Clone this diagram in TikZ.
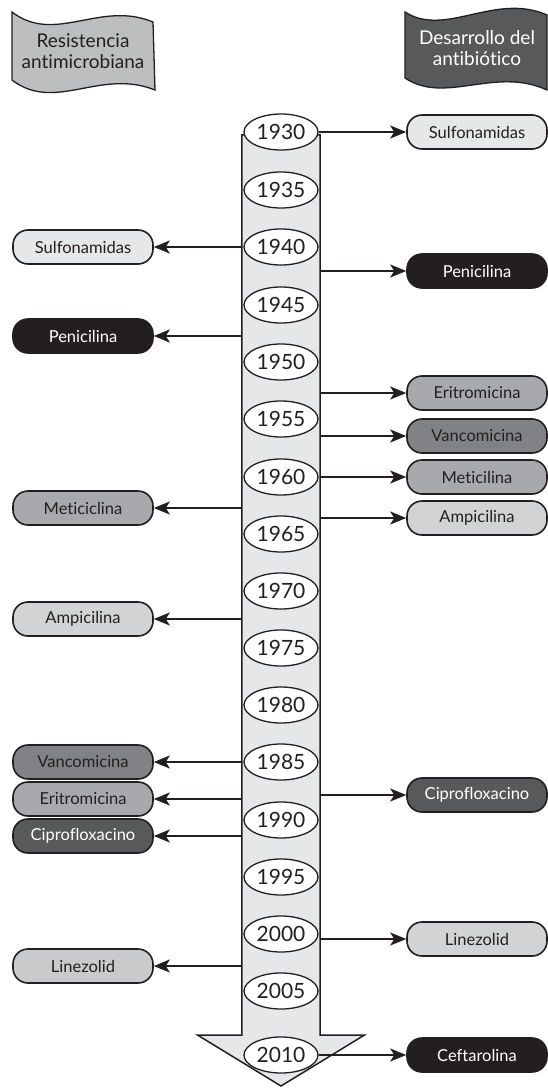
\documentclass[tikz,border=0pt]{standalone}
\usepackage{fontspec}
\setmainfont{Lato}[RawFeature={-liga}]
\usetikzlibrary{arrows.meta,calc,shapes.geometric}
\definecolor{txt}{HTML}{231F20}
\definecolor{shaftfill}{HTML}{E6E7E8}
\definecolor{fsulf}{HTML}{E6E7E8}
\definecolor{fampi}{HTML}{D1D3D4}
\definecolor{fline}{HTML}{C9CACC}
\definecolor{feri}{HTML}{A7A9AC}
\definecolor{fvan}{HTML}{808285}
\definecolor{fcip}{HTML}{58595B}
\definecolor{fpen}{HTML}{231F20}
\definecolor{bannerL}{HTML}{BCBEC0}
\definecolor{bannerR}{HTML}{58595B}
\tikzset{
  pill/.style={draw=txt, line width=1.6pt, rounded corners=15pt, minimum width=140pt,
    minimum height=34pt, inner sep=0pt, font=\fontsize{16.5}{19}\selectfont, text=txt},
  darkpill/.style={pill, text=white},
  yearnode/.style={ellipse, draw=txt, line width=1.3pt, fill=white, minimum width=74pt,
    minimum height=36pt, inner sep=0pt, font=\fontsize{21}{24}\selectfont, text=txt},
  conn/.style={draw=txt, line width=2pt, -{Stealth[length=16pt,width=13pt,inset=4pt]}},
  bannertext/.style={align=center, font=\fontsize{19}{21}\selectfont}
}
\begin{document}
\begin{tikzpicture}[x=1pt,y=-1pt]
\useasboundingbox (0,0) rectangle (547,1089);
% banners
\draw[fill=bannerL, draw=txt, line width=1.3pt]
  (12,12) .. controls (55,45) and (100,0) .. (153,22) -- (155,90)
  .. controls (100,68) and (55,113) .. (12,80) -- cycle;
\node[bannertext, text=txt] (bl) at (83,51) {Resistencia\\antimicrobiana};
\draw[fill=bannerR, draw=txt, line width=1.3pt]
  (405,12) .. controls (445,38) and (495,-8) .. (547,15) -- (547,90)
  .. controls (495,66) and (445,105) .. (405,78) -- cycle;
\node[bannertext, text=white] (br) at (477,48) {Desarrollo del\\antibiótico};
% shaft
\node[inner sep=0pt, minimum width=78pt, minimum height=900pt] (shaft) at (281,585) {};
\draw[fill=shaftfill, draw=txt, line width=1.5pt, line join=miter]
  (shaft.north west) -- (shaft.south west) -- ($(shaft.south west)+(-44,0)$)
  -- (281,1086) -- ($(shaft.south east)+(44,0)$) -- (shaft.south east)
  -- (shaft.north east) -- cycle;
% years
\foreach \yr/\yy in {1930/132,1935/190,1940/247,1945/305,1950/362,1955/419,1960/477,
  1965/534,1970/591,1975/648,1980/705,1985/762,1990/820,1995/877,2000/934,2005/991,2010/1055}
  \node[yearnode] (y\yr) at (281,\yy) {\yr};
% right boxes
\node[pill, fill=fsulf] (rsulf) at (477,132) {Sulfonamidas};
\node[darkpill, fill=fpen] (rpen) at (477,271) {Penicilina};
\node[pill, fill=feri] (reri) at (477,393) {Eritromicina};
\node[pill, fill=fvan] (rvan) at (477,436) {Vancomicina};
\node[pill, fill=feri] (rmet) at (477,477) {Meticilina};
\node[pill, fill=fampi] (rampi) at (477,518) {Ampicilina};
\node[darkpill, fill=fcip] (rcip) at (477,795) {Ciprofloxacino};
\node[pill, fill=fampi] (rlin) at (477,939) {Linezolid};
\node[darkpill, fill=fpen] (rcef) at (477,1055) {Ceftarolina};
% left boxes
\node[pill, fill=fsulf] (lsulf) at (83,247) {Sulfonamidas};
\node[darkpill, fill=fpen] (lpen) at (83,336) {Penicilina};
\node[pill, fill=feri] (lmet) at (83,508) {Meticiclina};
\node[pill, fill=fampi] (lampi) at (83,619) {Ampicilina};
\node[pill, fill=fvan] (lvan) at (83,762) {Vancomicina};
\node[pill, fill=feri] (leri) at (83,799) {Eritromicina};
\node[darkpill, fill=fcip] (lcip) at (83,836) {Ciprofloxacino};
\node[pill, fill=fline] (llin) at (83,966) {Linezolid};
% right connectors
\draw[conn] (y1930.east) -- (rsulf);
\foreach \b in {rpen,reri,rvan,rmet,rampi,rcip,rlin}
  \draw[conn] (shaft.east |- \b.west) -- (\b);
\draw[conn] (y2010.east) -- (rcef);
% left connectors
\foreach \b in {lsulf,lpen,lmet,lampi,lvan,leri,lcip,llin}
  \draw[conn] (shaft.west |- \b.east) -- (\b);
\end{tikzpicture}
\end{document}
